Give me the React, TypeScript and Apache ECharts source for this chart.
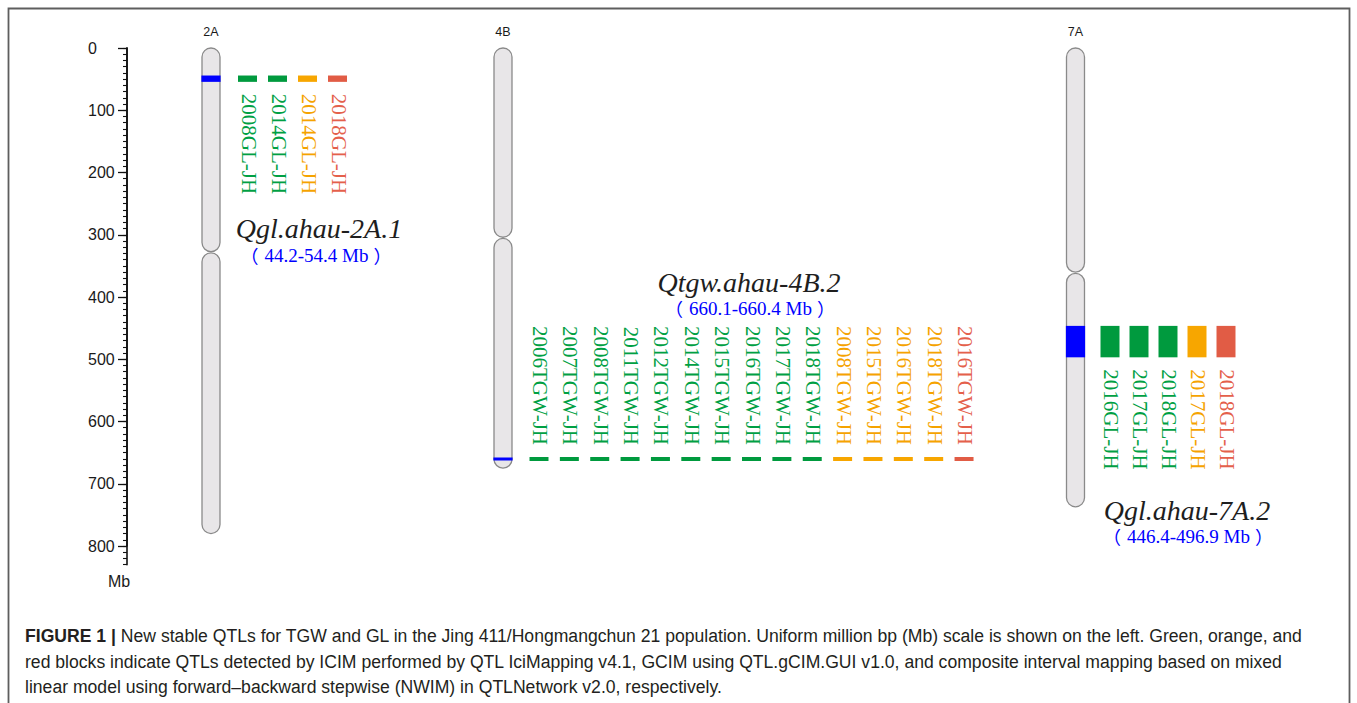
import React, { useEffect, useRef } from "react";
import * as echarts from "echarts";

// ---------------- DATA ----------------
const chromosomes = ["2A", "4B", "7A"];
const chromLengthMb = [780, 675, 737];
const centromereMb = [328, 305, 361];

const qtlNames = ["Qgl.ahau-2A.1", "Qtgw.ahau-4B.2", "Qgl.ahau-7A.2"];
const qtlStartMb = [44.2, 660.1, 446.4];
const qtlEndMb = [54.4, 660.4, 496.9];
const qtlRangeTexts = ["44.2-54.4 Mb", "660.1-660.4 Mb", "446.4-496.9 Mb"];

const detections2A = ["2008GL-JH", "2014GL-JH", "2014GL-JH", "2018GL-JH"];
const methods2A = ["ICIM", "ICIM", "GCIM", "NWIM"];
const detections4B = [
  "2006TGW-JH", "2007TGW-JH", "2008TGW-JH", "2011TGW-JH", "2012TGW-JH",
  "2014TGW-JH", "2015TGW-JH", "2016TGW-JH", "2017TGW-JH", "2018TGW-JH",
  "2008TGW-JH", "2015TGW-JH", "2016TGW-JH", "2018TGW-JH", "2016TGW-JH",
];
const methods4B = [
  "ICIM", "ICIM", "ICIM", "ICIM", "ICIM", "ICIM", "ICIM", "ICIM", "ICIM", "ICIM",
  "GCIM", "GCIM", "GCIM", "GCIM", "NWIM",
];
const detections7A = ["2016GL-JH", "2017GL-JH", "2018GL-JH", "2017GL-JH", "2018GL-JH"];
const methods7A = ["ICIM", "ICIM", "ICIM", "GCIM", "NWIM"];

const scaleMax = 830;
const labelMax = 800;
const majorTickStep = 100;
const minorTickStep = 10;
const scaleUnit = "Mb";

const captionLines = [
  "New stable QTLs for TGW and GL in the Jing 411/Hongmangchun 21 population. Uniform million bp (Mb) scale is shown on the left. Green, orange, and",
  "red blocks indicate QTLs detected by ICIM performed by QTL IciMapping v4.1, GCIM using QTL.gCIM.GUI v1.0, and composite interval mapping based on mixed",
  "linear model using forward–backward stepwise (NWIM) in QTLNetwork v2.0, respectively.",
];
const captionLead = "FIGURE 1 | ";

// ---------------- LAYOUT / STYLE ----------------
const PX_PER_MB = 0.6225;
const GRID_LEFT = 127;
const GRID_TOP = 48;
const GRID_RIGHT_X = 1350;
const LAYOUT = {
  chromX: [211, 503, 1075.5],
  chromW: 18,
  markFirstOffset: [36.5, 36, 34.5],
  markSpacing: [30, 30.36, 29],
  markW: 19,
  labelBelow: [true, false, true],
  titlePos: [[319, 228], [749, 282], [1187, 510]],
  rangePos: [[316, 255], [750, 308], [1188, 536]],
};
const METHOD_COLOR: Record<string, string> = {
  ICIM: "#009a3e",
  GCIM: "#f7a600",
  NWIM: "#e15c45",
};
const METHOD_TEXT: Record<string, string> = {
  ICIM: "#00a043",
  GCIM: "#f5a300",
  NWIM: "#e4604b",
};
const SERIF = "'Liberation Serif', 'Times New Roman', serif";
const CJK = "'Noto Sans CJK SC', 'Noto Sans CJK JP', sans-serif";
const SANS = "'Liberation Sans', Arial, Helvetica, sans-serif";

const detections = [detections2A, detections4B, detections7A];
const methods = [methods2A, methods4B, methods7A];

type Mark = { chrom: number; x: number; start: number; end: number; label: string; method: string };
const marks: Mark[] = [];
detections.forEach((list, c) => {
  list.forEach((label, i) => {
    marks.push({
      chrom: c,
      x: LAYOUT.chromX[c] + LAYOUT.markFirstOffset[c] + i * LAYOUT.markSpacing[c],
      start: qtlStartMb[c],
      end: qtlEndMb[c],
      label,
      method: methods[c][i],
    });
  });
});

export default function App() {
  const ref = useRef<HTMLDivElement>(null);

  useEffect(() => {
    if (!ref.current) return;
    const chart = echarts.init(ref.current, null, { renderer: "svg" });

    const chromData = chromosomes.map((_, i) => [LAYOUT.chromX[i], chromLengthMb[i], centromereMb[i], i]);
    const bandData = chromosomes.map((_, i) => [LAYOUT.chromX[i], qtlStartMb[i], qtlEndMb[i], i]);
    const markData = marks.map((m, i) => [m.x, m.start, m.end, i]);

    const chromStyle = { fill: "#e8e6e8", stroke: "#8a8a8a", lineWidth: 1.3 };
    const blue = "#0000ff";

    const option: any = {
      animation: false,
      backgroundColor: "#ffffff",
      grid: [
        { left: GRID_LEFT, top: GRID_TOP, width: GRID_RIGHT_X - GRID_LEFT, height: scaleMax * PX_PER_MB },
        { left: GRID_LEFT, top: GRID_TOP, width: GRID_RIGHT_X - GRID_LEFT, height: labelMax * PX_PER_MB },
      ],
      xAxis: [
        { gridIndex: 0, type: "value", min: GRID_LEFT, max: GRID_RIGHT_X, show: false },
        { gridIndex: 1, type: "value", min: GRID_LEFT, max: GRID_RIGHT_X, show: false },
      ],
      yAxis: [
        {
          gridIndex: 0,
          type: "value",
          inverse: true,
          min: 0,
          max: scaleMax,
          interval: minorTickStep,
          axisLine: { show: true, lineStyle: { color: "#111", width: 1.6 } },
          axisTick: { show: true, length: 4, lineStyle: { color: "#111", width: 1.1 } },
          axisLabel: { show: false },
          splitLine: { show: false },
        },
        {
          gridIndex: 1,
          type: "value",
          inverse: true,
          min: 0,
          max: labelMax,
          interval: majorTickStep,
          axisLine: { show: true, lineStyle: { color: "#111", width: 1.6 } },
          axisTick: { show: true, length: 9, lineStyle: { color: "#111", width: 1.3 } },
          axisLabel: {
            show: true,
            fontSize: 16,
            color: "#1a1a1a",
            fontFamily: SANS,
            align: "left",
            margin: 39,
          },
          splitLine: { show: false },
        },
      ],
      series: [
        {
          type: "custom",
          name: "chromosomes",
          xAxisIndex: 0,
          yAxisIndex: 0,
          data: chromData,
          renderItem: (params: any, api: any) => {
            const x = api.value(0);
            const idx = api.value(3);
            const [cx, yTop] = api.coord([x, 0]);
            const yCen = api.coord([x, api.value(2)])[1];
            const yBot = api.coord([x, api.value(1)])[1];
            const w = LAYOUT.chromW;
            return {
              type: "group",
              children: [
                {
                  type: "rect",
                  shape: { x: cx - w / 2, y: yTop, width: w, height: yCen - yTop - 0.6, r: w / 2 },
                  style: chromStyle,
                },
                {
                  type: "rect",
                  shape: { x: cx - w / 2, y: yCen + 0.6, width: w, height: yBot - yCen - 0.6, r: w / 2 },
                  style: chromStyle,
                },
                {
                  type: "text",
                  x: cx,
                  y: yTop - 16,
                  style: {
                    text: chromosomes[idx],
                    fill: "#1a1a1a",
                    font: `12.5px ${SANS}`,
                    align: "center",
                    verticalAlign: "middle",
                    textAlign: "center",
                    textVerticalAlign: "middle",
                  },
                },
              ],
            };
          },
        },
        {
          type: "custom",
          name: "qtl intervals",
          xAxisIndex: 0,
          yAxisIndex: 0,
          data: bandData,
          z: 3,
          renderItem: (params: any, api: any) => {
            const x = api.value(0);
            const [cx, y0] = api.coord([x, api.value(1)]);
            const y1 = api.coord([x, api.value(2)])[1];
            const h = Math.max(y1 - y0, 3.2);
            const yy = (y0 + y1) / 2 - h / 2;
            const w = LAYOUT.chromW + 1.2;
            return {
              type: "rect",
              shape: { x: cx - w / 2, y: yy, width: w, height: h },
              style: { fill: blue },
            };
          },
        },
        {
          type: "custom",
          name: "detections",
          xAxisIndex: 0,
          yAxisIndex: 0,
          data: markData,
          z: 4,
          renderItem: (params: any, api: any) => {
            const x = api.value(0);
            const m = marks[api.value(3)];
            const [cx, y0] = api.coord([x, api.value(1)]);
            const y1 = api.coord([x, api.value(2)])[1];
            const h = Math.max(y1 - y0, 4);
            const yy = (y0 + y1) / 2 - h / 2;
            const below = LAYOUT.labelBelow[m.chrom];
            const w = LAYOUT.markW;
            return {
              type: "group",
              children: [
                {
                  type: "rect",
                  shape: { x: cx - w / 2, y: yy, width: w, height: h },
                  style: { fill: METHOD_COLOR[m.method] },
                },
                {
                  type: "text",
                  x: cx + 1,
                  y: below ? yy + h + 12 : yy - 12,
                  rotation: -Math.PI / 2,
                  style: {
                    text: m.label,
                    fill: METHOD_TEXT[m.method],
                    font: `21px ${SERIF}`,
                    align: below ? "left" : "right",
                    verticalAlign: "middle",
                    textAlign: below ? "left" : "right",
                    textVerticalAlign: "middle",
                  },
                },
              ],
            };
          },
        },
      ],
      graphic: [
        {
          type: "rect",
          shape: { x: 8.5, y: 8.5, width: 1341, height: 730 },
          style: { fill: "none", stroke: "#5e5e5e", lineWidth: 1.8 },
          silent: true,
        },
        ...qtlNames.map((name, i) => ({
          type: "text",
          x: LAYOUT.titlePos[i][0],
          y: LAYOUT.titlePos[i][1],
          style: {
            text: name,
            fill: "#1e1e1e",
            font: `italic 28px ${SERIF}`,
            textAlign: "center",
            textVerticalAlign: "middle",
            align: "center",
            verticalAlign: "middle",
          },
        })),
        ...qtlRangeTexts.map((r, i) => ({
          type: "text",
          x: LAYOUT.rangePos[i][0],
          y: LAYOUT.rangePos[i][1],
          style: {
            text: `{pl|（}{t|${r}}{pr|）}`,
            textAlign: "center",
            textVerticalAlign: "middle",
            align: "center",
            verticalAlign: "middle",
            rich: {
              pl: { fontSize: 18, fontFamily: CJK, fill: blue, color: blue, padding: [0, 6, 0, 0] },
              pr: { fontSize: 18, fontFamily: CJK, fill: blue, color: blue, padding: [0, 0, 0, 5] },
              t: { fontSize: 19, fontFamily: SERIF, fill: blue, color: blue },
            },
          },
        })),
        {
          type: "text",
          x: 119,
          y: 581,
          style: {
            text: scaleUnit,
            fill: "#1a1a1a",
            font: `16px ${SANS}`,
            textAlign: "center",
            textVerticalAlign: "middle",
            align: "center",
            verticalAlign: "middle",
          },
        },
        ...captionLines.map((line, i) => ({
          type: "text",
          x: 25,
          y: 636 + i * 25.5,
          style: {
            text: i === 0 ? `{b|${captionLead}}{r|${line}}` : `{r|${line}}`,
            textVerticalAlign: "middle",
            verticalAlign: "middle",
            rich: {
              b: { fontWeight: "bold", fontSize: 17.6, fontFamily: SANS, fill: "#231f20", color: "#231f20" },
              r: { fontSize: 17.6, fontFamily: SANS, fill: "#231f20", color: "#231f20" },
            },
          },
        })),
      ],
    };

    chart.setOption(option);
    return () => chart.dispose();
  }, []);

  return (
    <div
      ref={ref}
      style={{ position: "fixed", left: 0, top: 0, width: 1357, height: 703, background: "#fff" }}
    />
  );
}
